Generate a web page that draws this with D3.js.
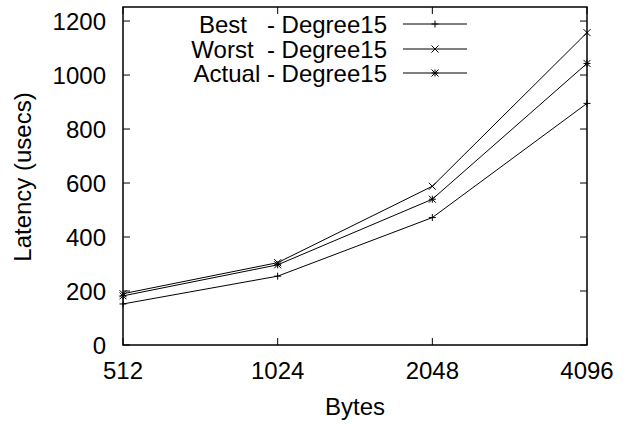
<!DOCTYPE html>
<html>
<head>
<meta charset="utf-8">
<script src="https://cdn.jsdelivr.net/npm/d3@7"></script>
<style>
  body { margin: 0; background: white; }
  text { font-family: "Liberation Sans", Arial, sans-serif; fill: black; }
</style>
</head>
<body>
<script>
const bytes = [512, 1024, 2048, 4096]
const best = [152, 255, 472, 895]
const worst = [190, 305, 588, 1157]
const actual = [182, 297, 540, 1043]
const yTicks = [0, 200, 400, 600, 800, 1000, 1200]
const seriesNames = ["Best   - Degree15", "Worst  - Degree15", "Actual - Degree15"]
const markers = ["plus", "cross", "star"]

const [width, height] = [626, 424]
const margin = {left: 123, right: 39, top: 7, bottom: 79}
const fs = 24

const svg = d3.select("body").append("svg")
    .attr("width", width)
    .attr("height", height)

const x = d3.scaleLog().base(2)
    .domain([512, 4096])
    .range([margin.left, width - margin.right])
const y = d3.scaleLinear()
    .domain([0, 1252])
    .range([height - margin.bottom, margin.top])

const x0 = x.range()[0], x1 = x.range()[1]
const y0 = y.range()[0], y1 = y.range()[1]
const tick = 7

// ticks (inside, mirrored like gnuplot)
const g = svg.append("g").attr("stroke", "black").attr("stroke-width", 1)
yTicks.forEach(v => {
    g.append("line").attr("x1", x0).attr("x2", x0 + tick).attr("y1", y(v)).attr("y2", y(v))
    g.append("line").attr("x1", x1).attr("x2", x1 - tick).attr("y1", y(v)).attr("y2", y(v))
})
bytes.forEach(v => {
    g.append("line").attr("x1", x(v)).attr("x2", x(v)).attr("y1", y0).attr("y2", y0 - tick)
    g.append("line").attr("x1", x(v)).attr("x2", x(v)).attr("y1", y1).attr("y2", y1 + tick)
})

svg.append("g").selectAll("text")
    .data(yTicks).enter().append("text")
    .attr("x", x0 - 17)
    .attr("y", d => y(d) + 8.5)
    .attr("text-anchor", "end")
    .attr("font-size", fs)
    .text(d => d)

svg.append("g").selectAll("text")
    .data(bytes).enter().append("text")
    .attr("x", d => x(d))
    .attr("y", 379)
    .attr("text-anchor", "middle")
    .attr("font-size", fs)
    .text(d => d)

svg.append("text")
    .attr("x", (x0 + x1) / 2)
    .attr("y", 415)
    .attr("text-anchor", "middle")
    .attr("font-size", fs)
    .text("Bytes")

svg.append("text")
    .attr("transform", `translate(31, 177) rotate(-90)`)
    .attr("text-anchor", "middle")
    .attr("font-size", fs)
    .text("Latency (usecs)")

// markers
function marker(sel, type, cx, cy) {
    const s = 3.5
    const p = d3.path()
    if (type === "plus" || type === "star") {
        p.moveTo(cx - s, cy); p.lineTo(cx + s, cy)
        p.moveTo(cx, cy - s); p.lineTo(cx, cy + s)
    }
    if (type === "cross" || type === "star") {
        p.moveTo(cx - s, cy - s); p.lineTo(cx + s, cy + s)
        p.moveTo(cx - s, cy + s); p.lineTo(cx + s, cy - s)
    }
    sel.append("path").attr("d", p.toString())
        .attr("stroke", "black").attr("stroke-width", 1).attr("fill", "none")
}

const line = d3.line().x(d => x(d[0])).y(d => y(d[1]))
const series = [best, worst, actual]

series.forEach((vals, i) => {
    const pts = bytes.map((b, j) => [b, vals[j]])
    svg.append("path")
        .attr("d", line(pts))
        .attr("fill", "none")
        .attr("stroke", "black")
        .attr("stroke-width", 1)
    const m = svg.append("g")
    pts.forEach(p => marker(m, markers[i], x(p[0]), y(p[1])))
})

// legend
const legY = [24, 49, 73]
seriesNames.forEach((name, i) => {
    svg.append("text")
        .attr("x", 387)
        .attr("y", legY[i] + 8.5)
        .attr("text-anchor", "end")
        .attr("font-size", fs)
        .style("white-space", "pre")
        .text(name)
    svg.append("line")
        .attr("x1", 403).attr("x2", 467)
        .attr("y1", legY[i]).attr("y2", legY[i])
        .attr("stroke", "black").attr("stroke-width", 1)
    marker(svg, markers[i], 435, legY[i])
})

// frame
svg.append("rect")
    .attr("x", x0).attr("y", y1)
    .attr("width", x1 - x0).attr("height", y0 - y1)
    .attr("fill", "none")
    .attr("stroke", "black")
    .attr("stroke-width", 1.5)
</script>
</body>
</html>
